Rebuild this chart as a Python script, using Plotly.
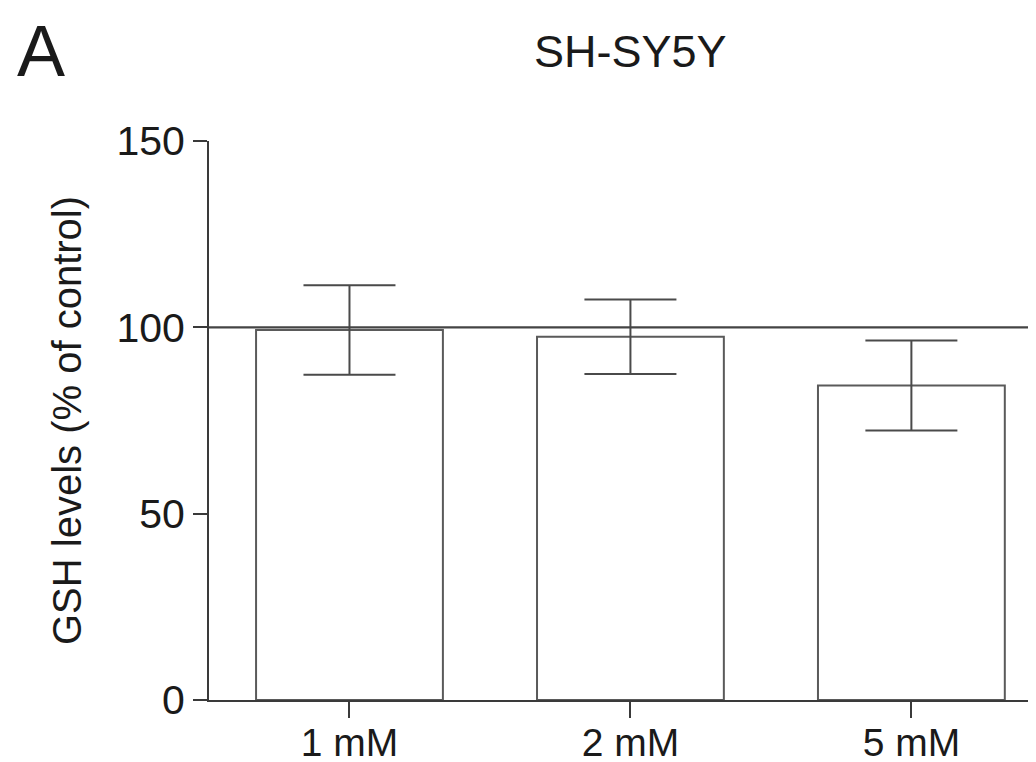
import plotly.graph_objects as go

categories = ["1 mM", "2 mM", "5 mM"]
gsh_mean = [99.3, 97.5, 84.4]
gsh_err = [12.0, 10.0, 12.1]
control_level = 100
y_ticks = [0, 50, 100, 150]

FONT = "Liberation Sans, Arial, sans-serif"
AX = "#3a3a3a"

fig = go.Figure()
fig.add_trace(go.Bar(
    x=list(range(len(categories))),
    y=gsh_mean,
    width=0.665,
    marker=dict(color="white", line=dict(color="#5a5a5a", width=2)),
    error_y=dict(type="data", array=gsh_err, visible=True,
                 color="#4a4a4a", thickness=2, width=46),
    showlegend=False,
))

# control reference line
fig.add_shape(type="line", xref="x", yref="y",
              x0=-0.5, x1=2.43, y0=control_level, y1=control_level,
              line=dict(color="#444444", width=2.2), layer="above")

fig.update_layout(
    width=1036, height=762,
    margin=dict(l=201, r=0, t=133, b=70),
    paper_bgcolor="white", plot_bgcolor="white",
    font=dict(family=FONT, color="#1a1a1a", size=40),
    annotations=[
        dict(text="SH-SY5Y", xref="x", yref="paper", x=1, y=1,
             yshift=90, showarrow=False, xanchor="center", yanchor="middle",
             font=dict(family=FONT, size=45, color="#1a1a1a")),
        dict(text="A", xref="paper", yref="paper", x=-0.232, y=1,
             yshift=90, showarrow=False, xanchor="left", yanchor="middle",
             font=dict(family=FONT, size=72, color="#1a1a1a")),
    ],
)

fig.update_xaxes(
    range=[-0.5, 2.472],
    tickmode="array", tickvals=list(range(len(categories))), ticktext=categories,
    showline=True, linecolor=AX, linewidth=2,
    ticks="outside", ticklen=16, tickwidth=2, tickcolor=AX,
    showgrid=False, zeroline=False,
    tickfont=dict(size=39),
    ticklabelstandoff=-9,
)
fig.update_yaxes(
    range=[0, 150],
    tickmode="array", tickvals=y_ticks,
    showline=True, linecolor=AX, linewidth=2,
    ticks="outside", ticklen=14, tickwidth=2, tickcolor=AX,
    showgrid=False, zeroline=False,
    tickfont=dict(size=41),
    title=dict(text="GSH levels (% of control)", font=dict(size=40), standoff=22),
)

fig.write_html("out.html")
